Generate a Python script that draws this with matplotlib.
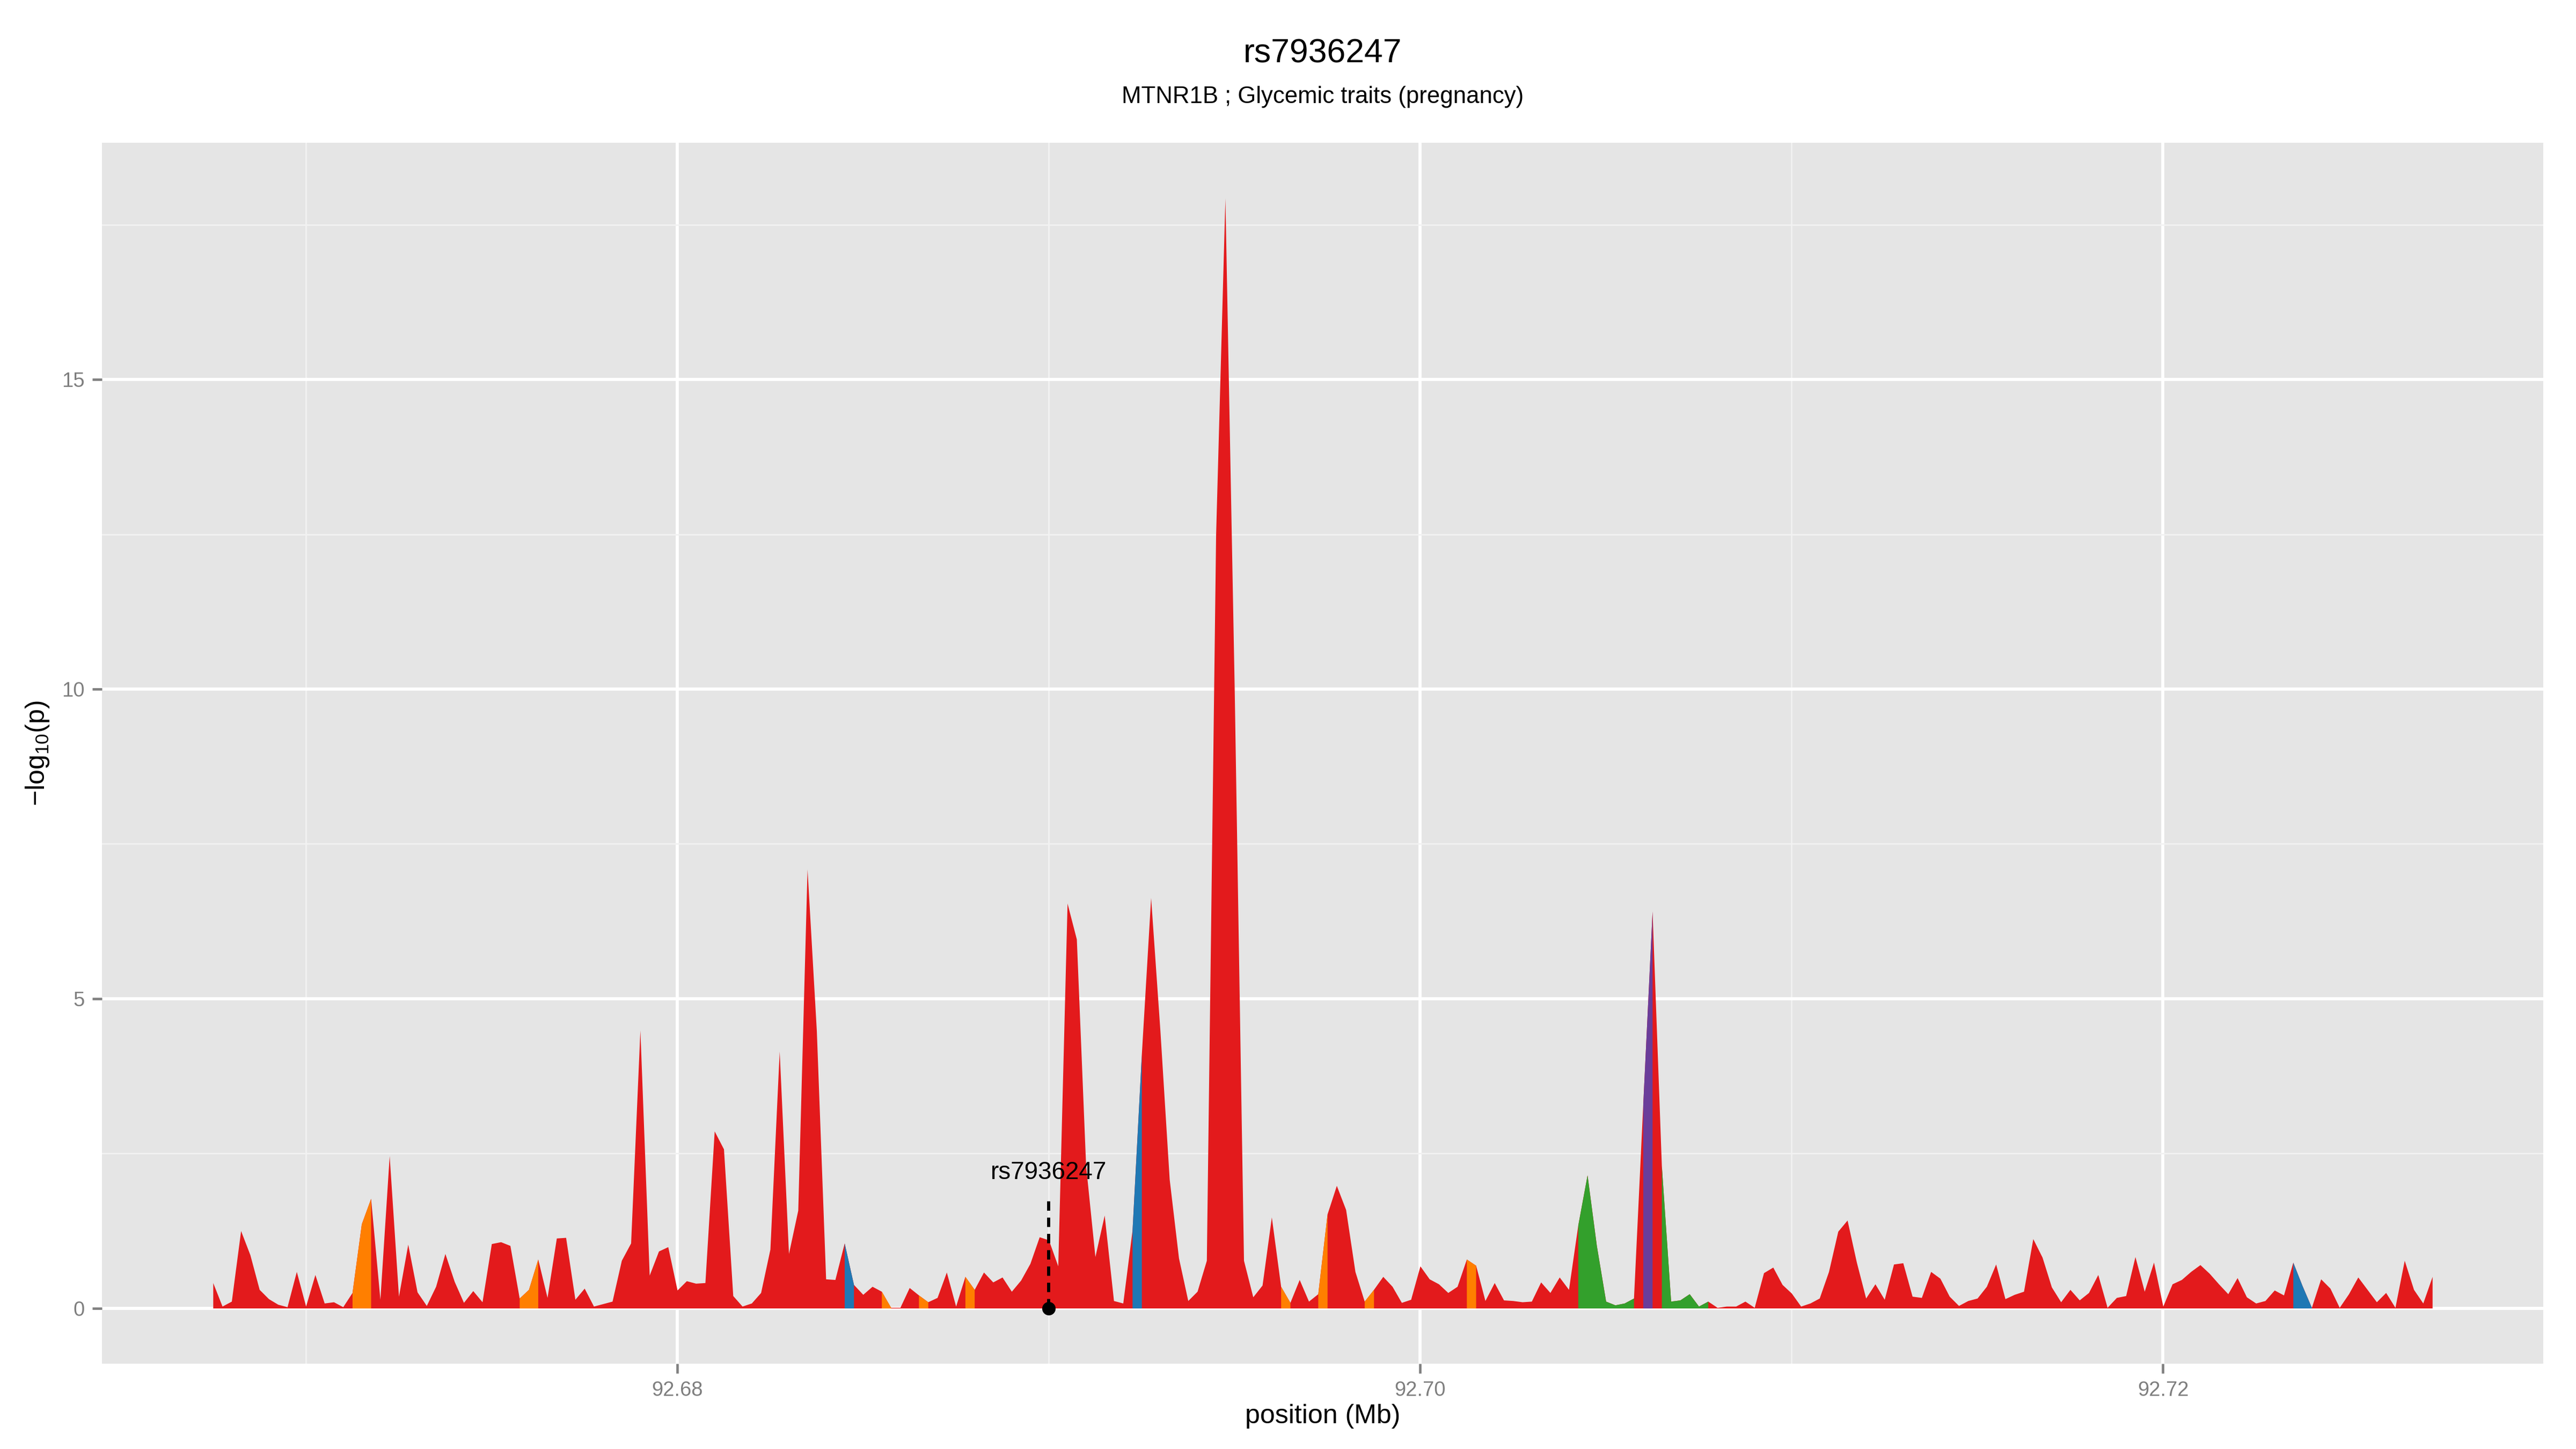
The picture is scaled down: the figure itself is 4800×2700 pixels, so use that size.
import numpy as np
import matplotlib
matplotlib.use("Agg")
import matplotlib.pyplot as plt

plt.rcParams['font.family'] = ['Liberation Sans', 'DejaVu Sans']
plt.rcParams['mathtext.fontset'] = 'custom'
plt.rcParams['mathtext.rm'] = 'Liberation Sans'
plt.rcParams['mathtext.it'] = 'Liberation Sans'

# positions: one value every 250 bp
pos_start = 92.6675
pos_step = 0.00025

logp = [
    0.41, 0.03, 0.11, 1.25, 0.86, 0.30, 0.15, 0.06, 0.02, 0.59,
    0.03, 0.54, 0.08, 0.10, 0.02, 0.25, 1.36, 1.77, 0.14, 2.46,
    0.19, 1.03, 0.26, 0.04, 0.35, 0.88, 0.43, 0.09, 0.28, 0.10,
    1.04, 1.07, 1.01, 0.16, 0.30, 0.79, 0.17, 1.13, 1.14, 0.14,
    0.32, 0.03, 0.07, 0.11, 0.77, 1.05, 4.49, 0.53, 0.92, 0.99,
    0.29, 0.44, 0.40, 0.41, 2.86, 2.57, 0.20, 0.03, 0.08, 0.25,
    0.95, 4.15, 0.88, 1.58, 7.09, 4.48, 0.47, 0.46, 1.05, 0.38,
    0.22, 0.35, 0.27, 0.01, 0.01, 0.33, 0.21, 0.10, 0.17, 0.58,
    0.03, 0.51, 0.30, 0.58, 0.42, 0.50, 0.27, 0.45, 0.72, 1.15,
    1.10, 0.68, 6.54, 5.96, 2.30, 0.83, 1.50, 0.12, 0.08, 1.26,
    4.10, 6.63, 4.48, 2.08, 0.81, 0.12, 0.27, 0.77, 12.5, 17.93,
    10.0, 0.77, 0.18, 0.37, 1.47, 0.35, 0.09, 0.46, 0.11, 0.23,
    1.52, 1.98, 1.59, 0.59, 0.11, 0.30, 0.51, 0.35, 0.09, 0.14,
    0.68, 0.47, 0.39, 0.25, 0.35, 0.79, 0.69, 0.12, 0.41, 0.13,
    0.12, 0.10, 0.11, 0.42, 0.25, 0.50, 0.30, 1.34, 2.15, 1.01,
    0.11, 0.05, 0.08, 0.16, 3.30, 6.41, 2.30, 0.11, 0.13, 0.23,
    0.03, 0.11, 0.01, 0.03, 0.03, 0.11, 0.01, 0.57, 0.66, 0.38,
    0.24, 0.03, 0.08, 0.16, 0.59, 1.24, 1.42, 0.74, 0.16, 0.39,
    0.14, 0.71, 0.73, 0.19, 0.17, 0.59, 0.48, 0.19, 0.04, 0.12,
    0.16, 0.35, 0.71, 0.15, 0.22, 0.27, 1.12, 0.82, 0.34, 0.10,
    0.30, 0.13, 0.25, 0.54, 0.01, 0.17, 0.20, 0.83, 0.27, 0.74,
    0.03, 0.39, 0.46, 0.59, 0.70, 0.56, 0.39, 0.23, 0.49, 0.18,
    0.08, 0.12, 0.29, 0.21, 0.74, 0.36, 0.01, 0.47, 0.32, 0.01,
    0.23, 0.50, 0.30, 0.10, 0.25, 0.01, 0.77, 0.30, 0.08, 0.51,
]

# LD-coloured stretches (first index, last index, category)
seg_start = [15, 33, 72, 76, 81, 115, 119, 124, 135, 68, 99, 224, 147, 156, 154]
seg_end = [17, 35, 73, 77, 82, 116, 120, 125, 136, 69, 100, 226, 153, 161, 155]
seg_cat = ['orange', 'orange', 'orange', 'orange', 'orange', 'orange', 'orange',
           'orange', 'orange', 'blue', 'blue', 'blue', 'green', 'green', 'purple']

colors = {'red': '#E31A1C', 'orange': '#FF7F00', 'blue': '#1F78B4',
          'green': '#33A02C', 'purple': '#6A3D9A'}

snp_name = 'rs7936247'
snp_pos = 92.6900
title = 'rs7936247'
subtitle = 'MTNR1B ; Glycemic traits (pregnancy)'

pos = pos_start + pos_step * np.arange(len(logp))
y = np.array(logp)

fig = plt.figure(figsize=(16, 9), dpi=300)
ax_rect = [0.0396, 0.0589, 0.9477, 0.8426]
ax = fig.add_axes(ax_rect)
ax.set_facecolor('#E5E5E5')

ax.fill_between(pos, y, 0, color=colors['red'], lw=0, zorder=2)
for a, b, c in zip(seg_start, seg_end, seg_cat):
    ax.fill_between(pos[a:b + 1], y[a:b + 1], 0, color=colors[c], lw=0, zorder=3)

# index SNP marker
ax.plot([snp_pos, snp_pos], [0, 1.79], color='black', lw=1.4, ls=(0, (3, 2.2)), zorder=4)
ax.plot([snp_pos], [0], 'o', color='black', ms=5, zorder=5)
ax.text(snp_pos, 2.0, snp_name, ha='center', va='bottom', fontsize=11, zorder=5)

xr = pos[-1] - pos[0]
ax.set_xlim(pos[0] - 0.05 * xr, pos[-1] + 0.05 * xr)
ax.set_ylim(-0.05 * y.max(), y.max() * 1.05)

ax.set_xticks([92.68, 92.70, 92.72])
ax.set_xticklabels(['92.68', '92.70', '92.72'])
ax.set_xticks([92.67, 92.69, 92.71], minor=True)
ax.set_yticks([0, 5, 10, 15])
ax.set_yticks([2.5, 7.5, 12.5, 17.5], minor=True)

ax.grid(which='major', color='white', lw=1.4, zorder=0)
ax.grid(which='minor', color='#F2F2F2', lw=0.65, zorder=0)
ax.set_axisbelow(True)
for s in ax.spines.values():
    s.set_visible(False)
ax.tick_params(which='major', length=4.3, width=1.1, color='#7F7F7F',
               labelcolor='#7F7F7F', labelsize=9.2, pad=3.4)
ax.tick_params(which='minor', length=0)

ax.set_xlabel('position (Mb)', fontsize=12)
ax.xaxis.set_label_coords(0.5, -0.033)
ax.set_ylabel('\u2212log$_{10}$(p)', fontsize=12)
ax.yaxis.set_label_coords(-0.021, 0.5)

# titles are centred over the panel
cx = ax_rect[0] + ax_rect[2] / 2
fig.text(cx, 0.963, title, ha='center', va='center', fontsize=15)
fig.text(cx, 0.933, subtitle, ha='center', va='center', fontsize=10.5)

fig.savefig('out.png', dpi=300)
